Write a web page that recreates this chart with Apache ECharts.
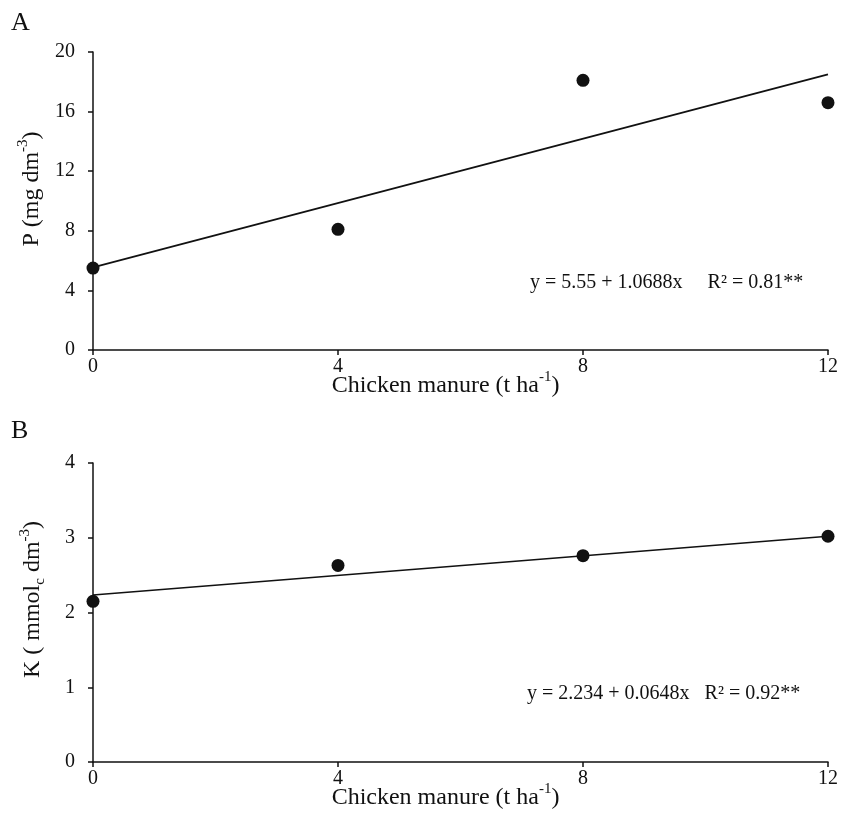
<!DOCTYPE html>
<html><head><meta charset="utf-8">
<script src="https://cdn.jsdelivr.net/npm/echarts@6/dist/echarts.min.js"></script>
<style>html,body{margin:0;padding:0;background:#fff}#c{width:841px;height:825px}</style>
</head><body><div id="c"></div>
<script>
const doses = [0, 4, 8, 12];
const pValues = [5.5, 8.1, 18.1, 16.6];
const kValues = [2.15, 2.63, 2.76, 3.02];
const pFitX = [0, 12];
const pFitY = [5.55, 18.5];
const kFitX = [0, 12];
const kFitY = [2.234, 3.02];
const xTicks = [0, 4, 8, 12];
const pEquation = 'y = 5.55 + 1.0688x     R² = 0.81**';
const kEquation = 'y = 2.234 + 0.0648x   R² = 0.92**';

const FONT = '"Liberation Serif", "Times New Roman", serif';
const INK = '#111';
const chart = echarts.init(document.getElementById('c'));
const pairs = (xs, ys) => xs.map((x, i) => [x, ys[i]]);

function xAxis(gridIndex) {
  return {
    type: 'value', gridIndex, min: 0, max: 12, interval: 4,
    name: '{n|Chicken manure (t ha}{s|-1}{n|)}',
    nameLocation: 'middle', nameGap: 20, nameMoveOverlap: false,
    nameTextStyle: { padding: [0, 30, 0, 0], rich: {
      n: { fontFamily: FONT, fontSize: 24, color: INK, lineHeight: 28, verticalAlign: 'bottom' },
      s: { fontFamily: FONT, fontSize: 15, color: INK, lineHeight: 28, verticalAlign: 'top' } } },
    axisLine: { show: true, lineStyle: { color: INK, width: 1.5 } },
    axisTick: { show: true, length: 5, lineStyle: { color: INK, width: 1.5 } },
    axisLabel: { fontFamily: FONT, fontSize: 20, color: INK, margin: 7,
      formatter: v => xTicks.includes(v) ? String(v) : '' },
    splitLine: { show: false }
  };
}

function yAxis(gridIndex, max, interval, name, gap, shift, rich) {
  return {
    type: 'value', gridIndex, min: 0, max, interval,
    name, nameLocation: 'middle', nameGap: gap, nameMoveOverlap: false,
    nameTextStyle: { padding: [0, 0, 0, shift], rich },
    axisLine: { show: true, lineStyle: { color: INK, width: 1.5 } },
    axisTick: { show: true, length: 5, lineStyle: { color: INK, width: 1.5 } },
    axisLabel: { fontFamily: FONT, fontSize: 20, color: INK, margin: 18 },
    splitLine: { show: false }
  };
}

const option = {
  backgroundColor: '#fff',
  animation: false,
  grid: [
    { left: 93, right: 13, top: 52, height: 298 },
    { left: 93, right: 13, top: 463, height: 299 }
  ],
  xAxis: [xAxis(0), xAxis(1)],
  yAxis: [
    yAxis(0, 20, 4, '{n|P (mg dm}{s|-3}{n|)}', 49, 24, {
      n: { fontFamily: FONT, fontSize: 24, color: INK, lineHeight: 28, verticalAlign: 'bottom' },
      s: { fontFamily: FONT, fontSize: 15, color: INK, lineHeight: 28, verticalAlign: 'top' } }),
    yAxis(1, 4, 1, '{n|K ( mmol}{b|c}{n| dm}{s|-3}{n|)}', 45, 26, {
      n: { fontFamily: FONT, fontSize: 24, color: INK, lineHeight: 30, verticalAlign: 'middle' },
      s: { fontFamily: FONT, fontSize: 15, color: INK, lineHeight: 30, verticalAlign: 'top' },
      b: { fontFamily: FONT, fontSize: 15, color: INK, lineHeight: 30, verticalAlign: 'bottom' } })
  ],
  graphic: [
    { type: 'text', left: 11, top: 10, style: { text: 'A', font: '26px ' + FONT, fill: INK } },
    { type: 'text', left: 11, top: 418, style: { text: 'B', font: '26px ' + FONT, fill: INK } },
    { type: 'text', left: 530, top: 273, style: { text: pEquation, font: '20px ' + FONT, fill: INK } },
    { type: 'text', left: 527, top: 684, style: { text: kEquation, font: '20px ' + FONT, fill: INK } }
  ],
  series: [
    { type: 'line', xAxisIndex: 0, yAxisIndex: 0, data: pairs(pFitX, pFitY), symbol: 'none',
      lineStyle: { color: INK, width: 1.7 }, z: 2 },
    { type: 'scatter', xAxisIndex: 0, yAxisIndex: 0, data: pairs(doses, pValues), symbolSize: 13,
      itemStyle: { color: INK, opacity: 1 }, z: 3, clip: false },
    { type: 'line', xAxisIndex: 1, yAxisIndex: 1, data: pairs(kFitX, kFitY), symbol: 'none',
      lineStyle: { color: INK, width: 1.7 }, z: 2 },
    { type: 'scatter', xAxisIndex: 1, yAxisIndex: 1, data: pairs(doses, kValues), symbolSize: 13,
      itemStyle: { color: INK, opacity: 1 }, z: 3, clip: false }
  ]
};
chart.setOption(option);
</script></body></html>
